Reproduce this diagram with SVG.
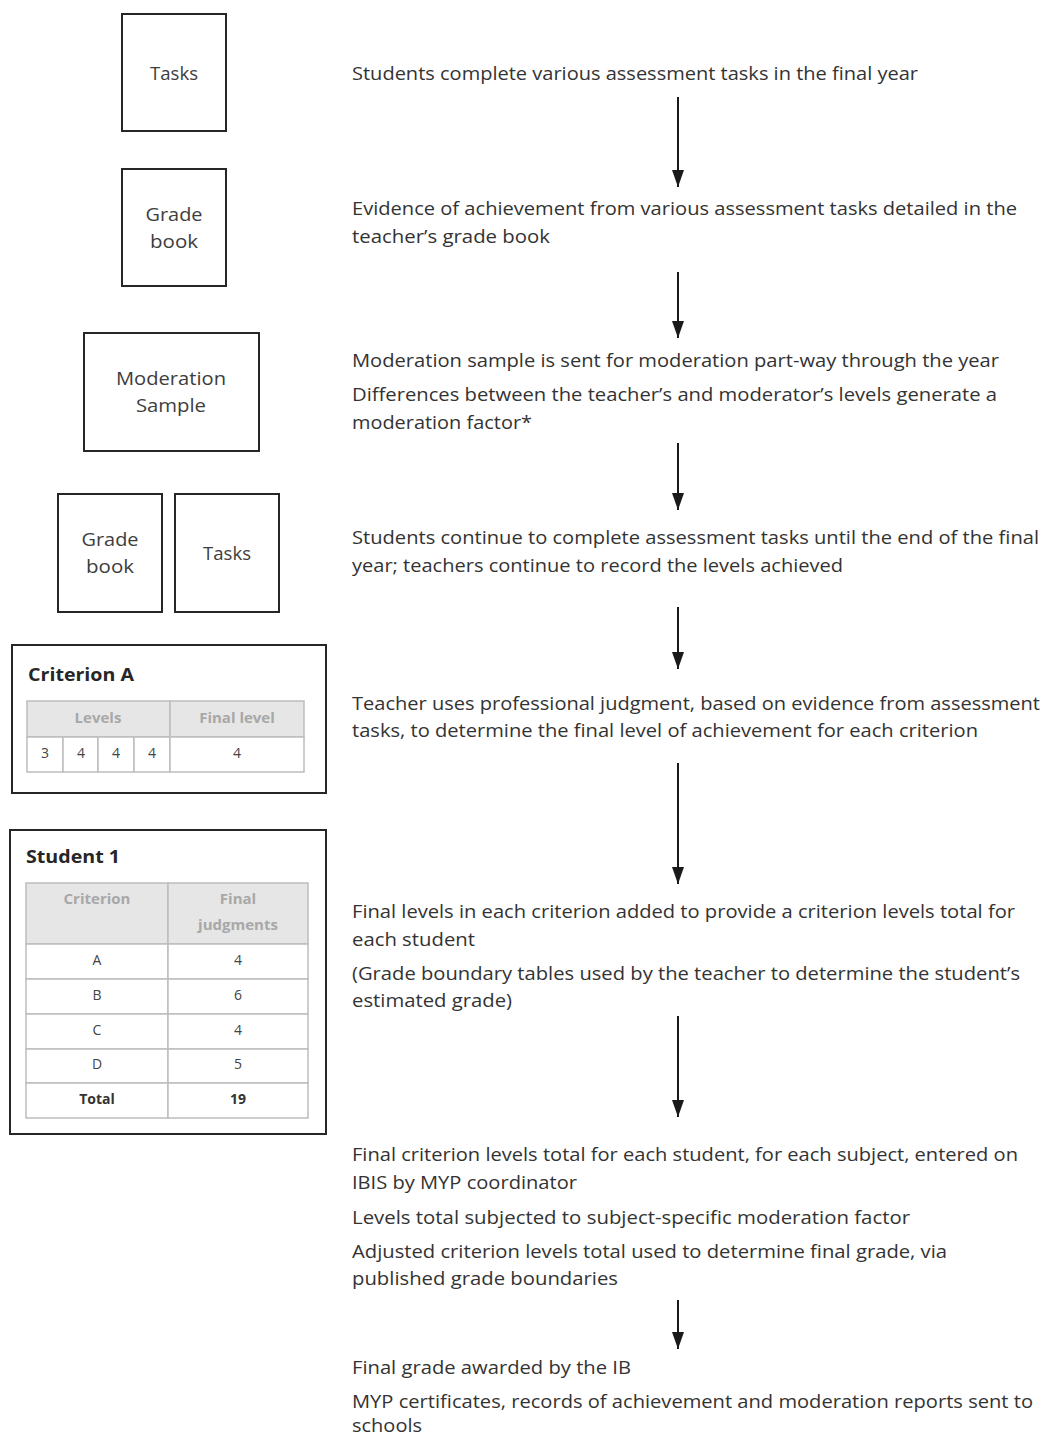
<svg xmlns="http://www.w3.org/2000/svg" width="1042" height="1438" viewBox="0 0 1042 1438">
<style>
.bg{fill:#ffffff}
.box{fill:#ffffff;stroke:#262626;stroke-width:2}
.lbl{font-family:"Open Sans","Liberation Sans",sans-serif;font-size:19px;fill:#3d3d3d;text-anchor:middle}
.txt{font-family:"Open Sans","Liberation Sans",sans-serif;font-size:19px;fill:#333333}
.ttl{font-family:"Open Sans","Liberation Sans",sans-serif;font-size:17px;font-weight:bold;fill:#262626}
.hdr{fill:#e6e6e6;stroke:#bdbdbd;stroke-width:1.5}
.cell{fill:#ffffff;stroke:#bdbdbd;stroke-width:1.5}
.htx{font-family:"Open Sans","Liberation Sans",sans-serif;font-size:15px;font-weight:bold;fill:#a8a8a8;text-anchor:middle}
.ctx{font-family:"Open Sans","Liberation Sans",sans-serif;font-size:14px;fill:#444444;text-anchor:middle}
.ctb{font-family:"Open Sans","Liberation Sans",sans-serif;font-size:14px;font-weight:bold;fill:#333333;text-anchor:middle}
.arr{stroke:#1a1a1a;stroke-width:2;fill:none;marker-end:url(#ah)}
</style>
<defs>
<marker id="ah" markerWidth="18" markerHeight="12" refX="17" refY="6" orient="auto" markerUnits="userSpaceOnUse" viewBox="0 0 18 12">
<path d="M0,0 L17,6 L0,12 Z" fill="#1a1a1a"/>
</marker>
</defs>
<rect class="bg" x="0" y="0" width="1042" height="1438"/>

<g id="node-tasks1">
<rect class="box" x="122" y="14" width="104" height="117"/>
<text class="lbl" x="174" y="80" textLength="48" lengthAdjust="spacingAndGlyphs">Tasks</text>
</g>
<g id="node-gradebook1">
<rect class="box" x="122" y="169" width="104" height="117"/>
<text class="lbl" x="174" y="221" textLength="57" lengthAdjust="spacingAndGlyphs">Grade</text>
<text class="lbl" x="174" y="248" textLength="48" lengthAdjust="spacingAndGlyphs">book</text>
</g>
<g id="node-moderation">
<rect class="box" x="84" y="333" width="175" height="118"/>
<text class="lbl" x="171" y="385" textLength="110" lengthAdjust="spacingAndGlyphs">Moderation</text>
<text class="lbl" x="171" y="412" textLength="70" lengthAdjust="spacingAndGlyphs">Sample</text>
</g>
<g id="node-gradebook2">
<rect class="box" x="58" y="494" width="104" height="118"/>
<text class="lbl" x="110" y="546" textLength="57" lengthAdjust="spacingAndGlyphs">Grade</text>
<text class="lbl" x="110" y="573" textLength="48" lengthAdjust="spacingAndGlyphs">book</text>
</g>
<g id="node-tasks2">
<rect class="box" x="175" y="494" width="104" height="118"/>
<text class="lbl" x="227" y="560" textLength="48" lengthAdjust="spacingAndGlyphs">Tasks</text>
</g>

<g id="node-criterionA">
<rect class="box" x="12" y="645" width="314" height="148"/>
<text class="ttl" x="28" y="681" textLength="106" lengthAdjust="spacingAndGlyphs">Criterion A</text>
<rect class="hdr" x="27" y="701" width="143" height="36"/>
<rect class="hdr" x="170" y="701" width="134" height="36"/>
<rect class="cell" x="27" y="737" width="36" height="35"/>
<rect class="cell" x="63" y="737" width="35" height="35"/>
<rect class="cell" x="98" y="737" width="36" height="35"/>
<rect class="cell" x="134" y="737" width="36" height="35"/>
<rect class="cell" x="170" y="737" width="134" height="35"/>
<text class="htx" x="98" y="723">Levels</text>
<text class="htx" x="237" y="723">Final level</text>
<text class="ctx" x="45" y="758">3</text>
<text class="ctx" x="81" y="758">4</text>
<text class="ctx" x="116" y="758">4</text>
<text class="ctx" x="152" y="758">4</text>
<text class="ctx" x="237" y="758">4</text>
</g>

<g id="node-student1">
<rect class="box" x="10" y="830" width="316" height="304"/>
<text class="ttl" x="26" y="863" textLength="94" lengthAdjust="spacingAndGlyphs">Student 1</text>
<rect class="hdr" x="26" y="883" width="142" height="61"/>
<rect class="hdr" x="168" y="883" width="140" height="61"/>
<text class="htx" x="97" y="904">Criterion</text>
<text class="htx" x="238" y="904">Final</text>
<text class="htx" x="238" y="930">judgments</text>
<rect class="cell" x="26" y="944" width="142" height="35"/>
<rect class="cell" x="168" y="944" width="140" height="35"/>
<rect class="cell" x="26" y="979" width="142" height="35"/>
<rect class="cell" x="168" y="979" width="140" height="35"/>
<rect class="cell" x="26" y="1014" width="142" height="35"/>
<rect class="cell" x="168" y="1014" width="140" height="35"/>
<rect class="cell" x="26" y="1049" width="142" height="34"/>
<rect class="cell" x="168" y="1049" width="140" height="34"/>
<rect class="cell" x="26" y="1083" width="142" height="35"/>
<rect class="cell" x="168" y="1083" width="140" height="35"/>
<text class="ctx" x="97" y="965">A</text><text class="ctx" x="238" y="965">4</text>
<text class="ctx" x="97" y="1000">B</text><text class="ctx" x="238" y="1000">6</text>
<text class="ctx" x="97" y="1035">C</text><text class="ctx" x="238" y="1035">4</text>
<text class="ctx" x="97" y="1069">D</text><text class="ctx" x="238" y="1069">5</text>
<text class="ctb" x="97" y="1104">Total</text><text class="ctb" x="238" y="1104">19</text>
</g>

<g id="step-texts">
<text class="txt" x="352" y="80" textLength="566" lengthAdjust="spacingAndGlyphs">Students complete various assessment tasks in the final year</text>
<text class="txt" x="352" y="215" textLength="665" lengthAdjust="spacingAndGlyphs">Evidence of achievement from various assessment tasks detailed in the</text>
<text class="txt" x="352" y="243" textLength="198" lengthAdjust="spacingAndGlyphs">teacher’s grade book</text>
<text class="txt" x="352" y="367" textLength="647" lengthAdjust="spacingAndGlyphs">Moderation sample is sent for moderation part-way through the year</text>
<text class="txt" x="352" y="401" textLength="645" lengthAdjust="spacingAndGlyphs">Differences between the teacher’s and moderator’s levels generate a</text>
<text class="txt" x="352" y="429" textLength="180" lengthAdjust="spacingAndGlyphs">moderation factor*</text>
<text class="txt" x="352" y="544" textLength="687" lengthAdjust="spacingAndGlyphs">Students continue to complete assessment tasks until the end of the final</text>
<text class="txt" x="352" y="572" textLength="491" lengthAdjust="spacingAndGlyphs">year; teachers continue to record the levels achieved</text>
<text class="txt" x="352" y="710" textLength="688" lengthAdjust="spacingAndGlyphs">Teacher uses professional judgment, based on evidence from assessment</text>
<text class="txt" x="352" y="737" textLength="626" lengthAdjust="spacingAndGlyphs">tasks, to determine the final level of achievement for each criterion</text>
<text class="txt" x="352" y="918" textLength="663" lengthAdjust="spacingAndGlyphs">Final levels in each criterion added to provide a criterion levels total for</text>
<text class="txt" x="352" y="946" textLength="123" lengthAdjust="spacingAndGlyphs">each student</text>
<text class="txt" x="352" y="980" textLength="668" lengthAdjust="spacingAndGlyphs">(Grade boundary tables used by the teacher to determine the student’s</text>
<text class="txt" x="352" y="1007" textLength="160" lengthAdjust="spacingAndGlyphs">estimated grade)</text>
<text class="txt" x="352" y="1161" textLength="666" lengthAdjust="spacingAndGlyphs">Final criterion levels total for each student, for each subject, entered on</text>
<text class="txt" x="352" y="1189" textLength="225" lengthAdjust="spacingAndGlyphs">IBIS by MYP coordinator</text>
<text class="txt" x="352" y="1224" textLength="558" lengthAdjust="spacingAndGlyphs">Levels total subjected to subject-specific moderation factor</text>
<text class="txt" x="352" y="1258" textLength="595" lengthAdjust="spacingAndGlyphs">Adjusted criterion levels total used to determine final grade, via</text>
<text class="txt" x="352" y="1285" textLength="266" lengthAdjust="spacingAndGlyphs">published grade boundaries</text>
<text class="txt" x="352" y="1374" textLength="279" lengthAdjust="spacingAndGlyphs">Final grade awarded by the IB</text>
<text class="txt" x="352" y="1408" textLength="681" lengthAdjust="spacingAndGlyphs">MYP certificates, records of achievement and moderation reports sent to</text>
<text class="txt" x="352" y="1432" textLength="70" lengthAdjust="spacingAndGlyphs">schools</text>
</g>

<g id="connectors">
<line class="arr" x1="678" y1="97" x2="678" y2="187"/>
<line class="arr" x1="678" y1="272" x2="678" y2="338"/>
<line class="arr" x1="678" y1="443" x2="678" y2="510"/>
<line class="arr" x1="678" y1="607" x2="678" y2="669"/>
<line class="arr" x1="678" y1="763" x2="678" y2="884"/>
<line class="arr" x1="678" y1="1016" x2="678" y2="1117"/>
<line class="arr" x1="678" y1="1300" x2="678" y2="1349"/>
</g>
</svg>
